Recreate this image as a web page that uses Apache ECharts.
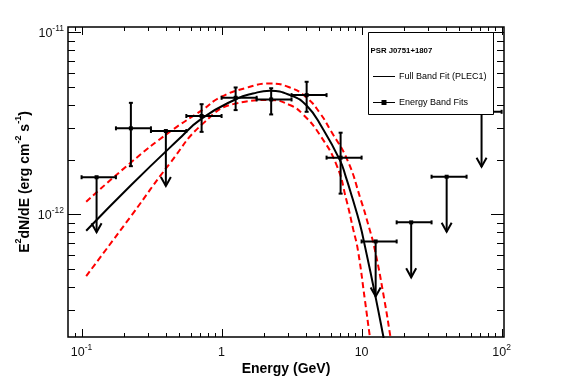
<!DOCTYPE html>
<html><head><meta charset="utf-8">
<script src="https://cdn.jsdelivr.net/npm/echarts@6/dist/echarts.min.js"></script>
<style>html,body{margin:0;padding:0;background:#fff}#c{width:567px;height:384px}</style>
</head><body><div id="c"></div><script>
// ---- data ----
const energy     = [0.128, 0.225, 0.40, 0.72, 1.26, 2.26, 4.05, 7.08, 12.6, 22.6, 40.5, 71.9];
const flux       = [1.60e-12, 2.97e-12, 2.87e-12, 3.47e-12, 4.37e-12, 4.28e-12, 4.52e-12, 2.05e-12, 7.1e-13, 9.04e-13, 1.61e-12, 3.66e-12];
const energyLow  = [0.1, 0.176, 0.313, 0.56, 1.0, 1.78, 3.16, 5.62, 10, 17.8, 31.6, 56.2];
const energyHigh = [0.176, 0.313, 0.56, 1.0, 1.78, 3.16, 5.62, 10, 17.8, 31.6, 56.2, 100];
const fluxLow    = [null, 1.84e-12, null, 2.84e-12, 3.74e-12, 3.54e-12, 3.66e-12, 1.30e-12, null, null, null, null];
const fluxHigh   = [null, 4.10e-12, null, 4.03e-12, 4.98e-12, 4.93e-12, 5.35e-12, 2.81e-12, null, null, null, null];
const upperLimit = [1, 0, 1, 0, 0, 0, 0, 0, 1, 1, 1, 1];

// full band fit (PLEC1) curve
const fitE = [0.1079, 0.2261, 0.4874, 0.7197, 1.280, 1.673, 2.213, 3.075, 4.047, 5.248, 6.998, 7.726, 8.595, 9.725, 10.56, 12.65, 14.31, 14.91];
const fitF = [8.126e-13, 1.449e-12, 2.559e-12, 3.360e-12, 4.311e-12, 4.611e-12, 4.771e-12, 4.523e-12, 3.962e-12, 2.980e-12, 1.986e-12, 1.603e-12, 1.229e-12, 8.845e-13, 6.695e-13, 3.446e-13, 2.126e-13, 1.796e-13];
// upper / lower 1-sigma fit bounds (red dashed)
const upE = [0.1079, 0.2261, 0.4272, 0.7390, 0.9725, 1.509, 2.213, 3.075, 4.047, 5.037, 6.035, 7.917, 9.886, 11.18, 12.45, 14.55, 16.06, 16.6];
const upF = [1.173e-12, 1.933e-12, 2.843e-12, 3.775e-12, 4.383e-12, 4.962e-12, 5.233e-12, 4.974e-12, 4.383e-12, 3.603e-12, 2.876e-12, 1.988e-12, 1.198e-12, 8.733e-13, 6.364e-13, 3.381e-13, 2.126e-13, 1.796e-13];
const loE = [0.1079, 0.2261, 0.4272, 0.7390, 1.280, 2.213, 3.075, 3.827, 5.037, 6.628, 7.789, 8.737, 9.410, 10.56, 11.46, 11.85];
const loF = [4.581e-13, 9.812e-13, 1.906e-12, 3.162e-12, 4.073e-12, 4.246e-12, 3.987e-12, 3.535e-12, 2.728e-12, 1.866e-12, 1.198e-12, 8.197e-13, 6.364e-13, 3.381e-13, 2.126e-13, 1.796e-13];

const xMajorTicks = [0.1, 1, 10, 100];
const xMinorTicks = [0.09, 0.2, 0.3, 0.4, 0.5, 0.6, 0.7, 0.8, 0.9, 2, 3, 4, 5, 6, 7, 8, 9, 20, 30, 40, 50, 60, 70, 80, 90];
const yMajorTicks = [1e-12, 1e-11];
const yMinorTicks = [3e-13, 4e-13, 5e-13, 6e-13, 7e-13, 8e-13, 9e-13, 2e-12, 3e-12, 4e-12, 5e-12, 6e-12, 7e-12, 8e-12, 9e-12];

const legendTitle = 'PSR J0751+1807';
const fitName = 'Full Band Fit (PLEC1)';
const bandName = 'Energy Band Fits';

const X_MIN = 0.08, X_MAX = 104, Y_MIN = 2.12e-13, Y_MAX = 1.07e-11;
const FONT = 'Liberation Sans, Arial, Helvetica, sans-serif';

const chart = echarts.init(document.getElementById('c'), null, {renderer: 'canvas'});

function zip(a, b) { return a.map((v, i) => [v, b[i]]); }
const pointRows = energy.map((e, i) => [e, flux[i], energyLow[i], energyHigh[i],
  fluxLow[i] == null ? flux[i] : fluxLow[i], fluxHigh[i] == null ? flux[i] : fluxHigh[i], upperLimit[i]]);

function isDecade(v) { const l = Math.log10(v); return Math.abs(l - Math.round(l)) < 1e-6; }
const richLab = {
  b: {fontSize: 12.5, fontFamily: FONT, color: '#111', verticalAlign: 'bottom', lineHeight: 16},
  sup: {fontSize: 8.5, fontFamily: FONT, color: '#111', verticalAlign: 'top', lineHeight: 10}
};

const blk = {stroke: '#000', lineWidth: 2};
function ln(x1, y1, x2, y2, st) { return {type: 'line', shape: {x1, y1, x2, y2}, style: st || blk}; }

const option = {
  animation: false,
  backgroundColor: '#fff',
  grid: {left: 68, right: 63, top: 27, bottom: 47, show: true, borderColor: '#000', borderWidth: 1.5, backgroundColor: 'transparent'},
  xAxis: {
    type: 'log', logBase: 10, min: X_MIN, max: X_MAX,
    name: 'Energy (GeV)', nameLocation: 'middle', nameGap: 25.5, nameMoveOverlap: false,
    nameTextStyle: {fontSize: 14, fontWeight: 'bold', color: '#000', fontFamily: FONT},
    axisLine: {show: false}, axisTick: {show: false}, splitLine: {show: false}, minorTick: {show: false},
    axisLabel: {
      margin: 6, rich: richLab,
      formatter: v => {
        if (!isDecade(v)) return '';
        const e = Math.round(Math.log10(v));
        if (e === 0) return '{b|1}';
        if (e === 1) return '{b|10}';
        return '{b|10}{sup|' + e + '}';
      }
    }
  },
  yAxis: {
    type: 'log', logBase: 10, min: Y_MIN, max: Y_MAX,
    name: '{b|E}{sup|2}{b|dN/dE (erg cm}{sup|-2}{b| s}{sup|-1}{b|)}',
    nameLocation: 'middle', nameGap: 36, nameMoveOverlap: false,
    nameTextStyle: {
      rich: {
        b: {fontSize: 14, fontWeight: 'bold', color: '#000', fontFamily: FONT, verticalAlign: 'bottom', lineHeight: 18},
        sup: {fontSize: 9, fontWeight: 'bold', color: '#000', fontFamily: FONT, verticalAlign: 'top', lineHeight: 10}
      }
    },
    axisLine: {show: false}, axisTick: {show: false}, splitLine: {show: false}, minorTick: {show: false},
    axisLabel: {
      margin: 4, rich: richLab,
      formatter: v => {
        if (!isDecade(v)) return '';
        const e = Math.round(Math.log10(v));
        return '{b|10}{sup|' + e + '}';
      }
    }
  },
  series: [
    {type: 'line', name: 'upper', data: zip(upE, upF), symbol: 'none', smooth: 0.5, z: 2, clip: true,
     lineStyle: {color: '#ff0000', width: 2, type: [6, 3.5]}},
    {type: 'line', name: 'lower', data: zip(loE, loF), symbol: 'none', smooth: 0.5, z: 2, clip: true,
     lineStyle: {color: '#ff0000', width: 2, type: [6, 3.5]}},
    {type: 'line', name: fitName, data: zip(fitE, fitF), symbol: 'none', smooth: 0.5, z: 3, clip: true,
     lineStyle: {color: '#000', width: 2}},
    {
      type: 'custom', name: bandName, coordinateSystem: 'cartesian2d', z: 4, silent: true,
      data: pointRows, encode: {x: 0, y: 1},
      renderItem(params, api) {
        const c = api.coord([api.value(0), api.value(1)]);
        const l = api.coord([api.value(2), api.value(1)]);
        const r = api.coord([api.value(3), api.value(1)]);
        const ch = [];
        ch.push(ln(l[0], c[1], r[0], c[1]));
        ch.push(ln(l[0], c[1] - 2, l[0], c[1] + 2));
        ch.push(ln(r[0], c[1] - 2, r[0], c[1] + 2));
        if (api.value(6)) {
          const tip = c[1] + 55;
          ch.push(ln(c[0], c[1], c[0], tip));
          ch.push({type: 'polyline', shape: {points: [[c[0] - 5, tip - 9], [c[0], tip], [c[0] + 5, tip - 9]]}, style: {stroke: '#000', lineWidth: 2, fill: null}});
        } else {
          const lo = api.coord([api.value(0), api.value(4)]);
          const hi = api.coord([api.value(0), api.value(5)]);
          ch.push(ln(c[0], lo[1], c[0], hi[1]));
          ch.push(ln(c[0] - 2, lo[1], c[0] + 2, lo[1]));
          ch.push(ln(c[0] - 2, hi[1], c[0] + 2, hi[1]));
        }
        ch.push({type: 'rect', shape: {x: c[0] - 2, y: c[1] - 2, width: 4, height: 4}, style: {fill: '#000'}});
        return {type: 'group', children: ch};
      }
    },
    {
      type: 'custom', name: 'xticks', coordinateSystem: 'cartesian2d', z: 5, silent: true,
      data: xMajorTicks.map(v => [v, Y_MIN, 1]).concat(xMinorTicks.map(v => [v, Y_MIN, 0])),
      encode: {x: 0, y: 1},
      renderItem(params, api) {
        const cs = params.coordSys;
        const px = Math.round(api.coord([api.value(0), Y_MIN])[0]) + 0.5;
        const len = api.value(2) ? 8 : 4;
        const st = {stroke: '#000', lineWidth: 1};
        const b = cs.y + cs.height, t = cs.y;
        return {type: 'group', children: [ln(px, b, px, b - len, st), ln(px, t, px, t + len, st)]};
      }
    },
    {
      type: 'custom', name: 'yticks', coordinateSystem: 'cartesian2d', z: 5, silent: true,
      data: yMajorTicks.map(v => [X_MIN, v, 1]).concat(yMinorTicks.map(v => [X_MIN, v, 0])),
      encode: {x: 0, y: 1},
      renderItem(params, api) {
        const cs = params.coordSys;
        const py = Math.round(api.coord([X_MIN, api.value(1)])[1]) + 0.5;
        const len = api.value(2) ? 13 : 7;
        const st = {stroke: '#000', lineWidth: 1};
        const L = cs.x, R = cs.x + cs.width;
        return {type: 'group', children: [ln(L, py, L + len, py, st), ln(R, py, R - len, py, st)]};
      }
    }
  ],
  graphic: {elements: [
    {type: 'rect', z: 100, shape: {x: 368.5, y: 32.5, width: 125, height: 82}, style: {fill: '#fff', stroke: '#000', lineWidth: 1}},
    {type: 'text', z: 101, x: 370.5, y: 50.5, style: {text: legendTitle, fontSize: 7.8, fontWeight: 'bold', fontFamily: FONT, fill: '#000', verticalAlign: 'middle'}},
    {type: 'line', z: 101, shape: {x1: 373, y1: 76.5, x2: 395, y2: 76.5}, style: {stroke: '#000', lineWidth: 1}},
    {type: 'text', z: 101, x: 399, y: 76.5, style: {text: fitName, fontSize: 9, fontFamily: FONT, fill: '#000', verticalAlign: 'middle'}},
    {type: 'line', z: 101, shape: {x1: 373, y1: 102.5, x2: 395, y2: 102.5}, style: {stroke: '#000', lineWidth: 1}},
    {type: 'rect', z: 101, shape: {x: 381.5, y: 100, width: 5, height: 5}, style: {fill: '#000'}},
    {type: 'text', z: 101, x: 399, y: 102.5, style: {text: bandName, fontSize: 9, fontFamily: FONT, fill: '#000', verticalAlign: 'middle'}}
  ]}
};
chart.setOption(option);
</script></body></html>
